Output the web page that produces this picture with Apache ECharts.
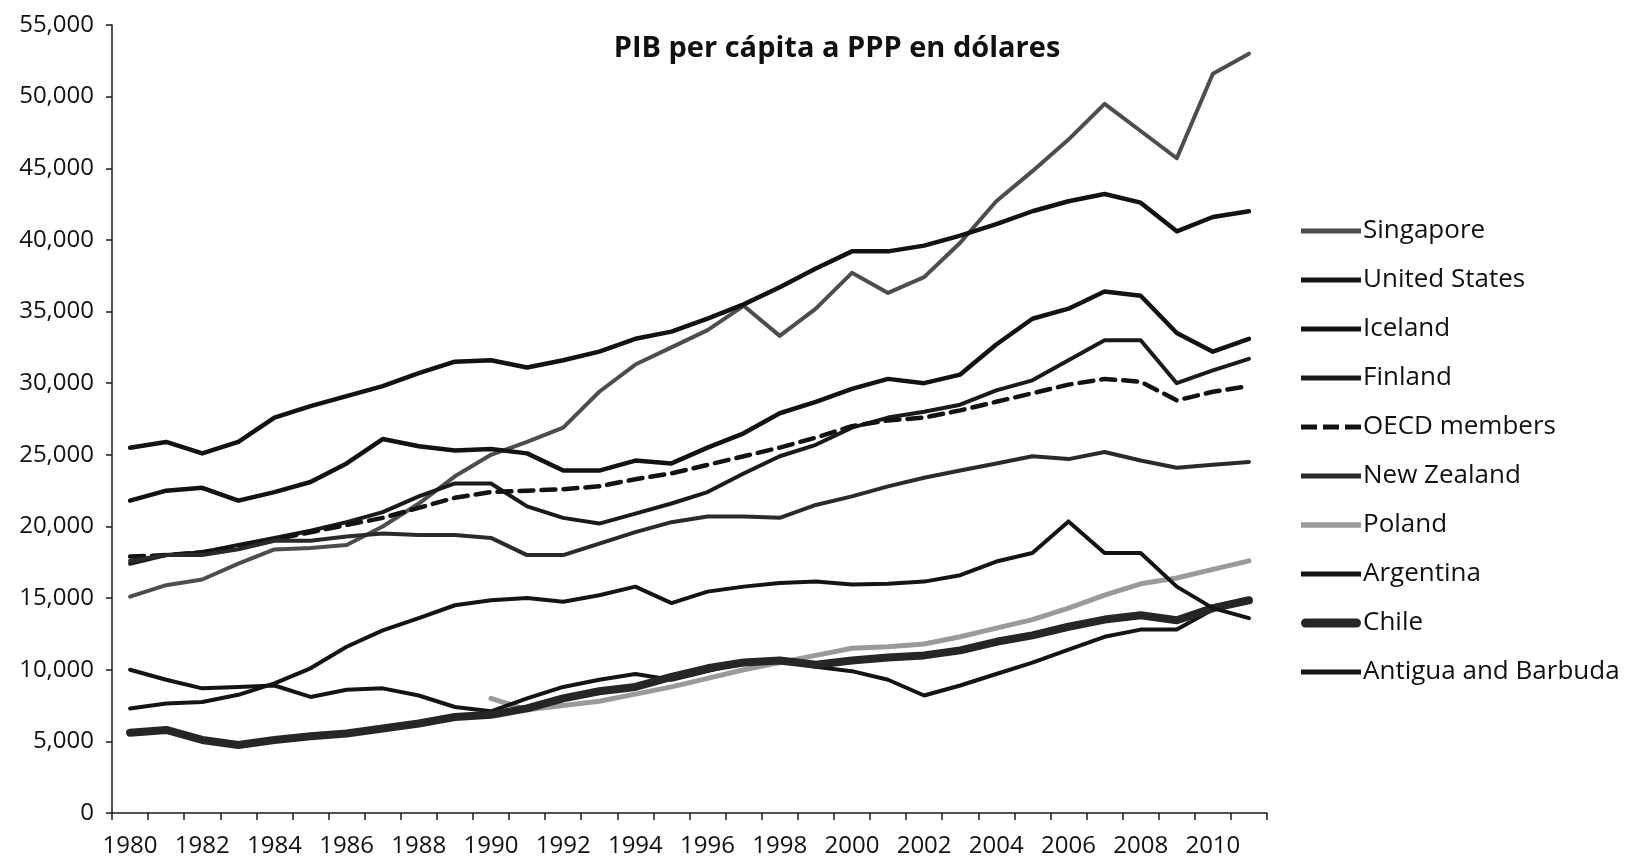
<!DOCTYPE html>
<html>
<head>
<meta charset="utf-8">
<title>PIB per cápita a PPP en dólares</title>
<script src="https://cdn.jsdelivr.net/npm/echarts@6/dist/echarts.min.js"></script>
<style>
  html, body { margin: 0; padding: 0; background: #ffffff; }
  #chart { width: 1635px; height: 866px; }
</style>
</head>
<body>
<div id="chart"></div>
<script>
// Years on the category axis
const years = [1980,1981,1982,1983,1984,1985,1986,1987,1988,1989,1990,1991,1992,1993,1994,1995,
               1996,1997,1998,1999,2000,2001,2002,2003,2004,2005,2006,2007,2008,2009,2010,2011];

// GDP per capita, PPP (US dollars)
const singapore = [15100,15900,16300,17400,18400,18500,18700,20000,21600,23500,25000,25900,26900,29400,31300,32500,
                   33700,35400,33300,35200,37700,36300,37400,39800,42700,44800,47000,49500,47600,45700,51600,53000];
const unitedStates = [25500,25900,25100,25900,27600,28400,29100,29800,30700,31500,31600,31100,31600,32200,33100,33600,
                      34500,35500,36700,38000,39200,39200,39600,40300,41100,42000,42700,43200,42600,40600,41600,42000];
const iceland = [21800,22500,22700,21800,22400,23100,24400,26100,25600,25300,25400,25100,23900,23900,24600,24400,
                 25500,26500,27900,28700,29600,30300,30000,30600,32700,34500,35200,36400,36100,33500,32200,33100];
const finland = [17400,18000,18200,18700,19200,19700,20300,21000,22100,23000,23000,21400,20600,20200,20900,21600,
                 22400,23700,24900,25700,26900,27600,28000,28500,29500,30200,31600,33000,33000,30000,30900,31700];
const oecdMembers = [17900,18000,18200,18600,19100,19600,20100,20600,21300,22000,22400,22500,22600,22800,23300,23700,
                     24300,24900,25500,26200,27000,27400,27600,28100,28700,29300,29900,30300,30100,28800,29400,29800];
const newZealand = [17600,18000,18000,18400,19000,19000,19300,19500,19400,19400,19200,18000,18000,18800,19600,20300,
                    20700,20700,20600,21500,22100,22800,23400,23900,24400,24900,24700,25200,24600,24100,24300,24500];
const poland = [null,null,null,null,null,null,null,null,null,null,8000,7200,7500,7800,8300,8800,
                9400,10000,10500,11000,11500,11600,11800,12300,12900,13500,14300,15200,16000,16400,17000,17600];
const argentina = [10000,9300,8700,8800,8900,8100,8600,8700,8200,7400,7100,8000,8800,9300,9700,9300,
                   9900,10500,10700,10200,9900,9300,8200,8900,9700,10500,11400,12300,12800,12800,14200,14800];
const chile = [5600,5800,5100,4750,5100,5350,5550,5900,6250,6700,6850,7300,8000,8500,8800,9500,
               10100,10500,10650,10350,10650,10850,11000,11350,11950,12400,13000,13500,13800,13450,14300,14850];
const antigua = [7300,7650,7750,8250,9050,10100,11600,12750,13600,14500,14850,15000,14750,15200,15800,14650,
                 15450,15800,16050,16150,15950,16000,16150,16600,17550,18150,20350,18150,18150,15800,14300,13600];

const FONT = '"Open Sans", "Noto Sans", sans-serif';

// Legend swatches: plain bars, a dashed bar and a thick rounded bar
const ICON_LINE = 'path://M0,0h60v5h-60z';
const ICON_LIGHT = 'path://M0,0h60v5.5h-60z';
const ICON_DASH = 'path://M0,0h16v5h-16z M22,0h16v5h-16z M44,0h16v5h-16z';
const ICON_THICK = 'path://M4.5,0h51a4.5,4.5 0 0 1 0,9h-51a4.5,4.5 0 0 1 0,-9z';

function lineSeries(name, data, color, width, type) {
  return {
    name: name,
    type: 'line',
    data: data,
    symbol: 'none',
    smooth: false,
    connectNulls: false,
    lineStyle: { color: color, width: width, type: type || 'solid', cap: 'round', join: 'round' },
    itemStyle: { color: color, borderWidth: 0 },
    emphasis: { disabled: true },
    animation: false
  };
}

const chart = echarts.init(document.getElementById('chart'), null, { renderer: 'canvas' });

chart.setOption({
  backgroundColor: '#ffffff',
  animation: false,
  title: {
    text: 'PIB per cápita a PPP en dólares',
    left: 832,
    textAlign: 'center',
    top: 29,
    textStyle: { fontFamily: FONT, fontWeight: 'bold', fontSize: 29, color: '#111111' }
  },
  legend: {
    orient: 'vertical',
    left: 1296,
    top: 212,
    itemWidth: 60,
    itemHeight: 14,
    itemGap: 21,
    selectedMode: false,
    itemStyle: { borderWidth: 0 },
    textStyle: { fontFamily: FONT, fontSize: 26, color: '#111111', lineHeight: 28, padding: [0, 0, 0, -3] },
    data: [
      { name: 'Singapore', icon: ICON_LINE },
      { name: 'United States', icon: ICON_LINE },
      { name: 'Iceland', icon: ICON_LINE },
      { name: 'Finland', icon: ICON_LINE },
      { name: 'OECD members', icon: ICON_DASH },
      { name: 'New Zealand', icon: ICON_LINE },
      { name: 'Poland', icon: ICON_LIGHT },
      { name: 'Argentina', icon: ICON_LINE },
      { name: 'Chile', icon: ICON_THICK },
      { name: 'Antigua and Barbuda', icon: ICON_LINE }
    ]
  },
  grid: { left: 112, right: 368, top: 25, bottom: 53, containLabel: false },
  xAxis: {
    type: 'category',
    data: years,
    boundaryGap: true,
    axisLine: { show: true, lineStyle: { color: '#1a1a1a', width: 1.5 } },
    axisTick: { show: true, interval: 0, length: 7, lineStyle: { color: '#1a1a1a', width: 1.5 } },
    axisLabel: { interval: 1, margin: 21, fontFamily: FONT, fontSize: 24, color: '#111111' },
    splitLine: { show: false }
  },
  yAxis: {
    type: 'value',
    min: 0,
    max: 55000,
    interval: 5000,
    axisLine: { show: true, lineStyle: { color: '#1a1a1a', width: 1.5 } },
    axisTick: { show: true, length: 6, lineStyle: { color: '#1a1a1a', width: 1.5 } },
    axisLabel: {
      margin: 18,
      fontFamily: FONT,
      fontSize: 24,
      color: '#111111',
      formatter: function (v) { return v.toLocaleString('en-US'); }
    },
    splitLine: { show: false }
  },
  series: [
    lineSeries('Singapore', singapore, '#4d4d4d', 4),
    lineSeries('United States', unitedStates, '#121212', 4.5),
    lineSeries('Iceland', iceland, '#121212', 4.5),
    lineSeries('Finland', finland, '#1a1a1a', 4),
    lineSeries('OECD members', oecdMembers, '#121212', 4.5, [14, 8]),
    lineSeries('New Zealand', newZealand, '#2a2a2a', 4),
    lineSeries('Poland', poland, '#9a9a9a', 5),
    lineSeries('Argentina', argentina, '#141414', 4),
    lineSeries('Chile', chile, '#262626', 8),
    lineSeries('Antigua and Barbuda', antigua, '#141414', 4)
  ]
});
</script>
</body>
</html>
